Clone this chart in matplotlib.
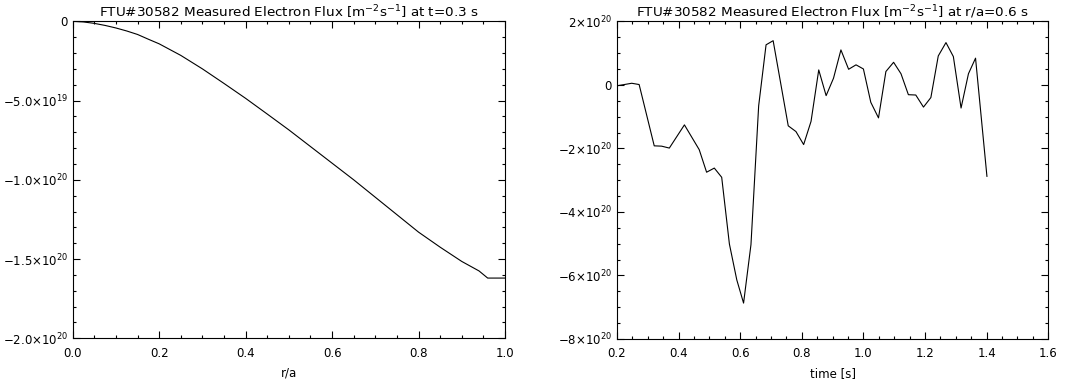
import matplotlib
matplotlib.use('Agg')
import matplotlib.pyplot as plt
from matplotlib.ticker import FixedLocator, MultipleLocator

# left panel: profile at t=0.3 s (units of 1e19)
r = [0.0, 0.025, 0.05, 0.075, 0.1, 0.125, 0.15, 0.175, 0.2, 0.25, 0.3, 0.35,
     0.4, 0.45, 0.5, 0.55, 0.6, 0.65, 0.7, 0.75, 0.8, 0.85, 0.9, 0.94, 0.96, 1.0]
flux_r = [0.0, -0.04, -0.13, -0.26, -0.42, -0.61, -0.83, -1.13, -1.42, -2.15,
          -3.0, -3.92, -4.86, -5.85, -6.85, -7.9, -8.95, -10.0, -11.1, -12.2,
          -13.3, -14.25, -15.15, -15.75, -16.2, -16.2]

# right panel: time trace at r/a=0.6 (units of 1e20)
t = [0.2, 0.248, 0.272, 0.321, 0.345, 0.37, 0.419, 0.467, 0.491, 0.516, 0.54,
     0.565, 0.589, 0.611, 0.635, 0.66, 0.684, 0.707, 0.756, 0.781, 0.806, 0.83,
     0.855, 0.879, 0.903, 0.927, 0.952, 0.976, 1.0, 1.024, 1.049, 1.073, 1.098,
     1.122, 1.146, 1.17, 1.195, 1.219, 1.243, 1.268, 1.292, 1.317, 1.341, 1.364,
     1.401]
flux_t = [-0.03, 0.05, 0.01, -1.92, -1.93, -1.99, -1.26, -2.04, -2.75, -2.62,
          -2.91, -5.01, -6.14, -6.87, -5.03, -0.66, 1.26, 1.39, -1.29, -1.47,
          -1.88, -1.15, 0.47, -0.34, 0.21, 1.10, 0.49, 0.63, 0.5, -0.55, -1.04,
          0.42, 0.71, 0.35, -0.31, -0.32, -0.7, -0.4, 0.91, 1.33, 0.89, -0.73,
          0.35, 0.84, -2.88]

left_yticks = [0, -5e19, -1e20, -1.5e20, -2e20]
left_ylabels = ['0', r'$-5.0{\times}10^{19}$', r'$-1.0{\times}10^{20}$',
                r'$-1.5{\times}10^{20}$', r'$-2.0{\times}10^{20}$']
right_yticks = [2e20, 0, -2e20, -4e20, -6e20, -8e20]
right_ylabels = [r'$2{\times}10^{20}$', '0', r'$-2{\times}10^{20}$',
                 r'$-4{\times}10^{20}$', r'$-6{\times}10^{20}$',
                 r'$-8{\times}10^{20}$']

plt.rcParams['font.family'] = 'DejaVu Sans'
plt.rcParams['mathtext.fontset'] = 'dejavusans'
plt.rcParams['font.size'] = 8.5

fig = plt.figure(figsize=(10.82, 3.82), dpi=100)
ax1 = fig.add_axes([0.0672, 0.1144, 0.3995, 0.8298])
ax2 = fig.add_axes([0.5702, 0.1126, 0.3986, 0.8316])

ax1.plot(r, [v * 1e19 for v in flux_r], color='black', lw=0.8)
ax1.set_xlim(0, 1)
ax1.set_ylim(-2e20, 0)
ax1.xaxis.set_major_locator(MultipleLocator(0.2))
ax1.xaxis.set_minor_locator(MultipleLocator(0.05))
ax1.yaxis.set_major_locator(FixedLocator(left_yticks))
ax1.set_yticklabels(left_ylabels)
ax1.yaxis.set_minor_locator(MultipleLocator(1e19))
ax1.set_xlabel('r/a', labelpad=5)
ax1.set_title(r'FTU#30582 Measured Electron Flux [m$^{-2}$s$^{-1}$] at t=0.3 s',
              fontsize=9.7, pad=3)

ax2.plot(t, [v * 1e20 for v in flux_t], color='black', lw=0.8)
ax2.set_xlim(0.2, 1.6)
ax2.set_ylim(-8e20, 2e20)
ax2.xaxis.set_major_locator(MultipleLocator(0.2))
ax2.xaxis.set_minor_locator(MultipleLocator(0.05))
ax2.yaxis.set_major_locator(FixedLocator(right_yticks))
ax2.set_yticklabels(right_ylabels)
ax2.yaxis.set_minor_locator(MultipleLocator(0.5e20))
ax2.set_xlabel('time [s]', labelpad=5)
ax2.set_title(r'FTU#30582 Measured Electron Flux [m$^{-2}$s$^{-1}$] at r/a=0.6 s',
              fontsize=9.7, pad=3)

for ax in (ax1, ax2):
    ax.xaxis.set_major_formatter(plt.FormatStrFormatter('%.1f'))
    ax.tick_params(which='both', direction='in', top=True, right=True,
                   width=0.8, labelsize=8.5)
    ax.tick_params(which='major', length=5)
    ax.tick_params(which='minor', length=2.5)
    ax.tick_params(axis='x', which='major', pad=6)
    for s in ax.spines.values():
        s.set_linewidth(0.8)

fig.savefig('out.png', dpi=100)
